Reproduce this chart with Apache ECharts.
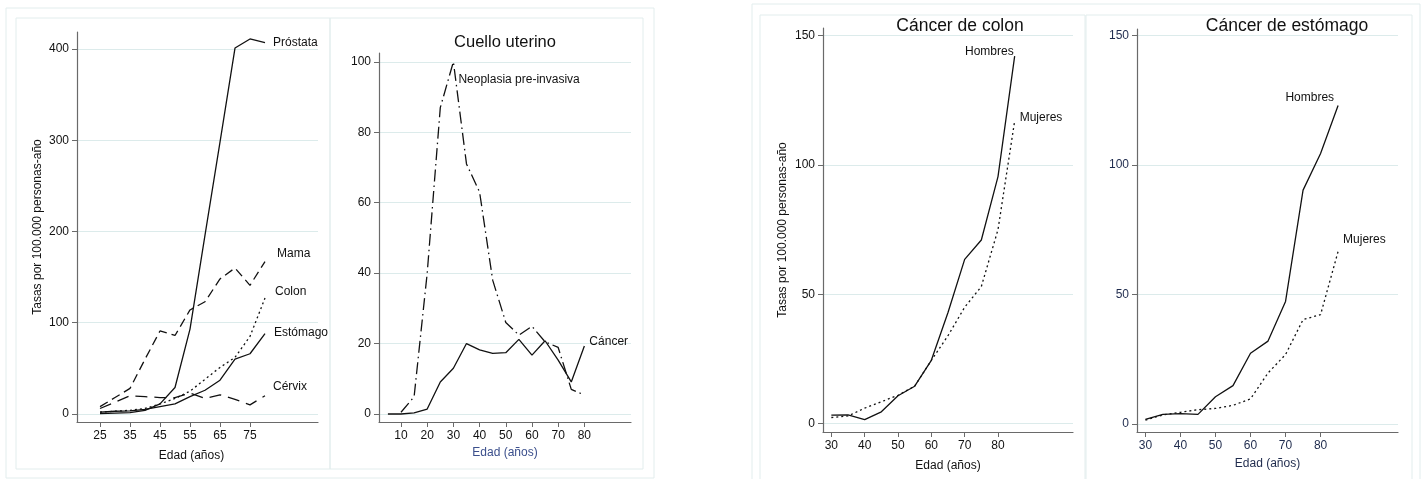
<!DOCTYPE html>
<html>
<head>
<meta charset="utf-8">
<script src="https://cdn.jsdelivr.net/npm/echarts@6/dist/echarts.min.js"></script>
<style>
html, body { margin: 0; padding: 0; background: #fff; }
#chart { width: 1424px; height: 479px; }
</style>
</head>
<body>
<div id="chart"></div>
<script>
// --- datos ---
const edadesA = [25, 30, 35, 40, 45, 50, 55, 60, 65, 70, 75, 80]
const prostata = [0.5, 1, 1.5, 4, 11, 29, 93, 196, 298, 401, 411, 407]
const mama = [8, 18, 28, 60, 91, 86, 114, 123, 148, 160, 141, 167]
const colon = [2, 3, 4, 6, 11, 17, 25, 38, 51, 62, 85, 127]
const estomago = [2, 3, 3.5, 5, 8, 11, 19, 26, 37, 60, 66, 88]
const cervix = [6, 13, 20, 19, 18, 18, 23, 17, 21, 16, 10, 20]

const edadesB = [5, 10, 15, 20, 25, 30, 35, 40, 45, 50, 55, 60, 65, 70, 75, 80]
const cuelloCancer = [0, 0, 0.3, 1.4, 9.1, 13, 20, 18.2, 17.2, 17.4, 21.2, 16.7, 20.8, 15.3, 9.1, 19.3]
const neoplasia = [null, 0.5, 4.9, 40, 87, 100, 71, 63, 38, 26, 22.4, 24.9, 20.5, 18.9, 7, 5.4]

const edadesC = [30, 35, 40, 45, 50, 55, 60, 65, 70, 75, 80, 85]
const colonHombres = [3.3, 3.4, 1.6, 4.6, 10.8, 14.5, 24.5, 43, 63.5, 71, 95.5, 142]
const colonMujeres = [2.4, 3, 6, 8.5, 11, 14.5, 24.5, 34, 45, 53, 75, 117]
const estHombres = [1.8, 3.7, 4, 3.7, 10.5, 14.8, 27.3, 32, 47.3, 90.3, 104.4, 123]
const estMujeres = [1.5, 3.5, 4.5, 5.5, 6, 7.2, 9.7, 19.7, 26.8, 40.3, 42.2, 66.6]

const ticksXA = [25, 35, 45, 55, 65, 75]
const ticksYA = [0, 100, 200, 300, 400]
const ticksXB = [10, 20, 30, 40, 50, 60, 70, 80]
const ticksYB = [0, 20, 40, 60, 80, 100]
const ticksXC = [30, 40, 50, 60, 70, 80]
const ticksYC = [0, 50, 100, 150]

const FONT = '"Liberation Sans", Arial, sans-serif'
const AXIS_COLOR = '#6a6a6a'
const GRID_LINE = '#dcebeb'
const FRAME = '#e2eded'
const INK = '#111111'
const NAVY = '#1f2b4d'

const pares = (xs, ys) => xs.map((x, i) => [x, ys[i]])

const ejeX = (grid, min, max, ticks, gap, labelColor, nameColor, namePad) => ({
  type: 'value',
  gridIndex: grid,
  min, max,
  name: 'Edad (años)',
  nameLocation: 'middle',
  nameGap: gap,
  nameTextStyle: { fontSize: 12, color: nameColor, fontFamily: FONT, padding: namePad || 0 },
  axisLine: { show: true, onZero: false, lineStyle: { color: AXIS_COLOR, width: 1.2 } },
  axisTick: { show: true, length: 5, customValues: ticks, lineStyle: { color: AXIS_COLOR } },
  axisLabel: { customValues: ticks, fontSize: 12, color: labelColor, margin: 8, fontFamily: FONT },
  splitLine: { show: false }
})

const ejeY = (grid, min, max, ticks, labelColor, name, gap) => ({
  type: 'value',
  gridIndex: grid,
  min, max,
  name: name || '',
  nameLocation: 'middle',
  nameGap: gap || 0,
  nameTextStyle: { fontSize: 12, color: INK, fontFamily: FONT },
  axisLine: { show: true, onZero: false, lineStyle: { color: AXIS_COLOR, width: 1.2 } },
  axisTick: { show: true, length: 5, customValues: ticks, lineStyle: { color: AXIS_COLOR } },
  axisLabel: { customValues: ticks, fontSize: 12, color: labelColor, margin: 8, fontFamily: FONT },
  splitLine: { show: true, lineStyle: { color: GRID_LINE, width: 1 } }
})

const linea = (name, grid, data, dash, endLabel) => ({
  name,
  type: 'line',
  xAxisIndex: grid,
  yAxisIndex: grid,
  data,
  showSymbol: false,
  symbol: 'none',
  connectNulls: false,
  lineStyle: { color: INK, width: 1.3, type: dash || 'solid' },
  endLabel: endLabel ? Object.assign({
    show: true,
    formatter: name,
    fontSize: 12,
    color: INK,
    fontFamily: FONT
  }, endLabel) : { show: false },
  z: 3
})

const marco = (x, y, w, h) => ({
  type: 'rect',
  shape: { x, y, width: w, height: h },
  style: { fill: 'none', stroke: FRAME, lineWidth: 1 },
  silent: true
})

const titulo = (text, x, y, size) => ({
  type: 'text',
  x, y,
  style: { text, fill: INK, font: `${size}px ${FONT}`, align: 'center', verticalAlign: 'middle' },
  silent: true
})

const chart = echarts.init(document.getElementById('chart'))

chart.setOption({
  animation: false,
  backgroundColor: '#ffffff',
  textStyle: { fontFamily: FONT },
  graphic: [
    marco(6, 8, 648, 470),
    marco(16, 18, 314, 451),
    marco(330, 18, 313, 451),
    marco(752, 4, 668, 480),
    marco(760, 15, 325, 470),
    marco(1086, 15, 326, 470),
    titulo('Cuello uterino', 505, 42, 16.5),
    titulo('Cáncer de colon', 960, 26, 17.5),
    titulo('Cáncer de estómago', 1287, 26, 17.5)
  ],
  grid: [
    { left: 77, right: 1424 - 318, top: 32, bottom: 479 - 422, outerBoundsMode: 'none' },
    { left: 379, right: 1424 - 631, top: 53, bottom: 479 - 422, outerBoundsMode: 'none' },
    { left: 823, right: 1424 - 1073, top: 28, bottom: 479 - 432, outerBoundsMode: 'none' },
    { left: 1137, right: 1424 - 1398, top: 29, bottom: 479 - 432, outerBoundsMode: 'none' }
  ],
  xAxis: [
    ejeX(0, 17.33, 97.67, ticksXA, 28, INK, INK, [0, 12, 0, 0]),
    ejeX(1, 1.6, 97.8, ticksXB, 23, INK, '#3b4f8c'),
    ejeX(2, 27.5, 102.5, ticksXC, 28, INK, INK),
    ejeX(3, 27.6, 102.1, ticksXC, 26, NAVY, NAVY)
  ],
  yAxis: [
    ejeY(0, -8.8, 418.6, ticksYA, INK, 'Tasas por 100.000 personas-año', 33),
    ejeY(1, -2.27, 102.5, ticksYB, INK),
    ejeY(2, -3.2, 152.9, ticksYC, INK, 'Tasas por 100.000 personas-año', 34),
    ejeY(3, -3.1, 152.5, ticksYC, NAVY)
  ],
  series: [
    linea('Próstata', 0, pares(edadesA, prostata), 'solid', { offset: [0, 0] }),
    linea('Mama', 0, pares(edadesA, mama), [9, 5], { offset: [4, -8] }),
    linea('Colon', 0, pares(edadesA, colon), [2, 3], { offset: [2, -6] }),
    linea('Estómago', 0, pares(edadesA, estomago), 'solid', { offset: [1, -1] }),
    linea('Cérvix', 0, pares(edadesA, cervix), [12, 7], { offset: [0, -9] }),

    linea('Cáncer', 1, pares(edadesB, cuelloCancer), 'solid', { offset: [-3, -4] }),
    Object.assign(linea('Neoplasia pre-invasiva', 1, pares(edadesB, neoplasia), [12, 4, 1.5, 4]), {
      markPoint: {
        symbol: 'circle',
        symbolSize: 0,
        data: [{ type: 'max', valueDim: 'y' }],
        label: {
          show: true,
          position: 'right',
          distance: 5,
          offset: [0, 18],
          formatter: 'Neoplasia pre-invasiva',
          fontSize: 12,
          color: INK,
          fontFamily: FONT
        }
      }
    }),

    linea('Hombres', 2, pares(edadesC, colonHombres), 'solid', { align: 'right', offset: [-9, -5] }),
    linea('Mujeres', 2, pares(edadesC, colonMujeres), [2, 3], { offset: [-3, -3] }),

    linea('Hombres', 3, pares(edadesC, estHombres), 'solid', { align: 'right', offset: [-12, -8] }),
    linea('Mujeres', 3, pares(edadesC, estMujeres), [2, 3], { offset: [-3, -12] })
  ]
})
</script>
</body>
</html>
